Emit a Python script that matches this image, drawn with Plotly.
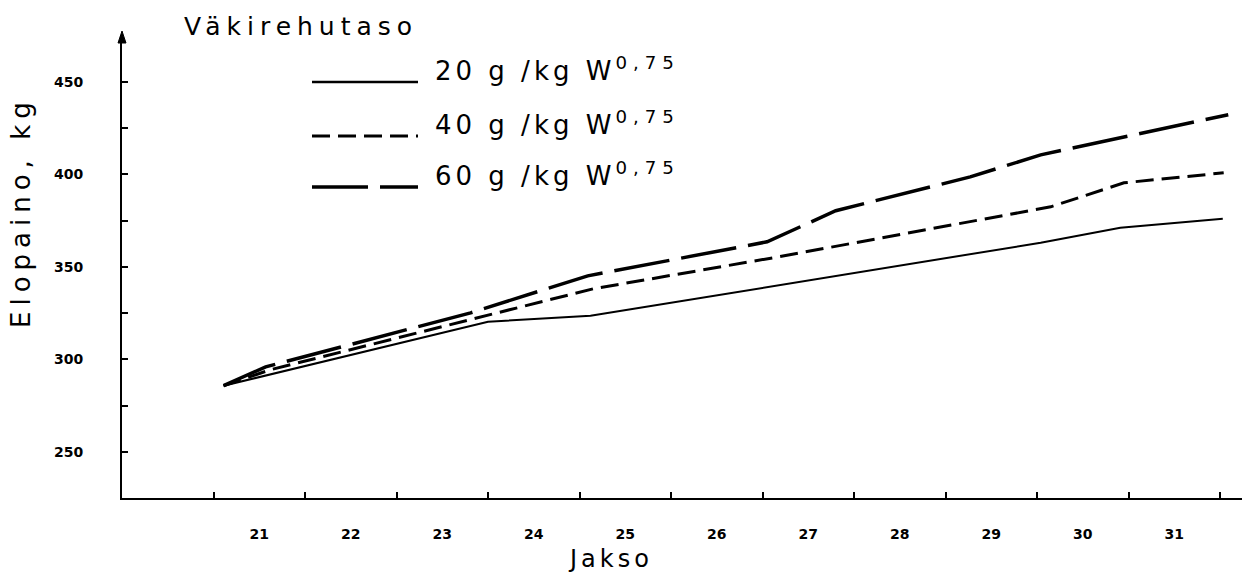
import plotly.graph_objects as go

# ---- data ----
periods = [21, 22, 23, 24, 25, 26, 27, 28, 29, 30, 31]
period_labels = [str(p) for p in periods]
period_edges = [20.5, 21.5, 22.5, 23.5, 24.5, 25.5, 26.5, 27.5, 28.5, 29.5, 30.5, 31.5]

weight_ticks = [250, 300, 350, 400, 450]
weight_labels = ["250", "300", "350", "400", "450"]
weight_minor_ticks = [275, 325, 375, 425]

# 20 g/kg W^0,75 (solid)
x20 = [20.61, 23.50, 24.62, 29.54, 30.41, 31.53]
y20 = [285.7, 320.3, 323.5, 363.0, 371.1, 376.0]
# 40 g/kg W^0,75 (short dashes)
x40 = [20.61, 21.12, 24.65, 26.62, 29.65, 30.45, 31.54]
y40 = [285.7, 294.3, 338.1, 354.9, 382.4, 395.4, 400.8]
# 60 g/kg W^0,75 (long dashes)
x60 = [20.61, 21.07, 23.31, 24.59, 26.55, 27.30, 28.77, 29.54, 31.59]
y60 = [285.7, 295.9, 325.1, 345.1, 363.5, 380.3, 398.6, 410.5, 432.2]

series_levels = ["20", "40", "60"]
series_unit = " g /kg W"
series_exp = "0,75"
series_x = [x20, x40, x60]
series_y = [y20, y40, y60]
series_dash = ["solid", "18px,8px", "56px,12px"]
series_width = [2, 3, 3.5]

legend_title = "Väkirehutaso"
x_title = "Jakso"
y_title = "Elopaino, kg"

# ---- layout geometry (pixels) ----
W, H = 1242, 574
L, R, T, B = 122, 0, 35, 76
PW, PH = W - L - R, H - T - B


def px(x):
    return (x - L) / PW


def py(y):
    return (H - B - y) / PH


FONT = "DejaVu Sans"

fig = go.Figure()
for lvl, xs, ys, dash, lw in zip(series_levels, series_x, series_y, series_dash, series_width):
    fig.add_trace(go.Scatter(x=xs, y=ys, mode="lines", name=lvl + series_unit + series_exp,
                             showlegend=False, line=dict(color="black", width=lw, dash=dash)))

# manual legend: sample lines + labels
legend_rows_y = [82, 136, 187]
shapes = []
annotations = []
for lvl, dash, lw, ry in zip(series_levels, series_dash, series_width, legend_rows_y):
    shapes.append(dict(type="line", xref="paper", yref="paper",
                       x0=px(312), x1=px(418), y0=py(ry), y1=py(ry),
                       line=dict(color="black", width=max(lw, 2.5), dash=dash)))
    label = ('<span style="letter-spacing:4px">' + lvl + series_unit + "</span>"
             + '<sup><span style="letter-spacing:6px">' + series_exp + "</span></sup>")
    annotations.append(dict(xref="paper", yref="paper", x=px(433), y=py(ry + 6),
                            xanchor="left", yanchor="bottom", showarrow=False,
                            text=label,
                            font=dict(family=FONT, size=26, color="black")))

annotations.append(dict(xref="paper", yref="paper", x=px(182), y=py(26),
                        xanchor="left", yanchor="middle", showarrow=False,
                        text='<span style="letter-spacing:6px">' + legend_title + "</span>",
                        font=dict(family=FONT, size=25, color="black")))
annotations.append(dict(xref="paper", yref="paper", x=px(566), y=py(559),
                        xanchor="left", yanchor="middle", showarrow=False,
                        text='<span style="letter-spacing:4px">' + x_title + "</span>",
                        font=dict(family=FONT, size=24, color="black")))
annotations.append(dict(xref="paper", yref="paper", x=px(21), y=py(212),
                        xanchor="center", yanchor="middle", showarrow=False, textangle=-90,
                        text='<span style="letter-spacing:6px">' + y_title + "</span>",
                        font=dict(family=FONT, size=26, color="black")))

# arrow head on top of the y axis (small filled triangle)
hw = 4 / PW
shapes.append(dict(type="path", xref="paper", yref="paper",
                   path=f"M {-hw},{py(43)} L 0,{py(31)} L {hw},{py(43)} Z",
                   fillcolor="black", line=dict(color="black", width=1)))

fig.update_layout(
    width=W, height=H,
    margin=dict(l=L, r=R, t=T, b=B, pad=0),
    paper_bgcolor="white", plot_bgcolor="white",
    showlegend=False,
    shapes=shapes, annotations=annotations,
    xaxis=dict(range=[19.5, 31.74], tickmode="array", tickvals=periods, ticktext=period_labels,
               ticks="", showgrid=False, zeroline=False, showline=True, linecolor="black",
               linewidth=2, ticklabelstandoff=22,
               tickfont=dict(family=FONT, size=14, color="black", weight="bold"),
               minor=dict(tickmode="array", tickvals=period_edges, ticks="inside", ticklen=6,
                          tickwidth=2, tickcolor="black", showgrid=False)),
    yaxis=dict(range=[225, 475.3], tickmode="array", tickvals=weight_ticks, ticktext=weight_labels,
               ticks="inside", ticklen=6, tickwidth=2, tickcolor="black",
               showgrid=False, zeroline=False, showline=True, linecolor="black", linewidth=2,
               ticklabelstandoff=34,
               tickfont=dict(family=FONT, size=14, color="black", weight="bold"),
               minor=dict(tickmode="array", tickvals=weight_minor_ticks, ticks="inside", ticklen=6,
                          tickwidth=2, tickcolor="black", showgrid=False)),
)

fig.write_html("out.html", config={"displayModeBar": False},
               post_script="document.body.style.margin='0';document.body.style.overflow='hidden';")
